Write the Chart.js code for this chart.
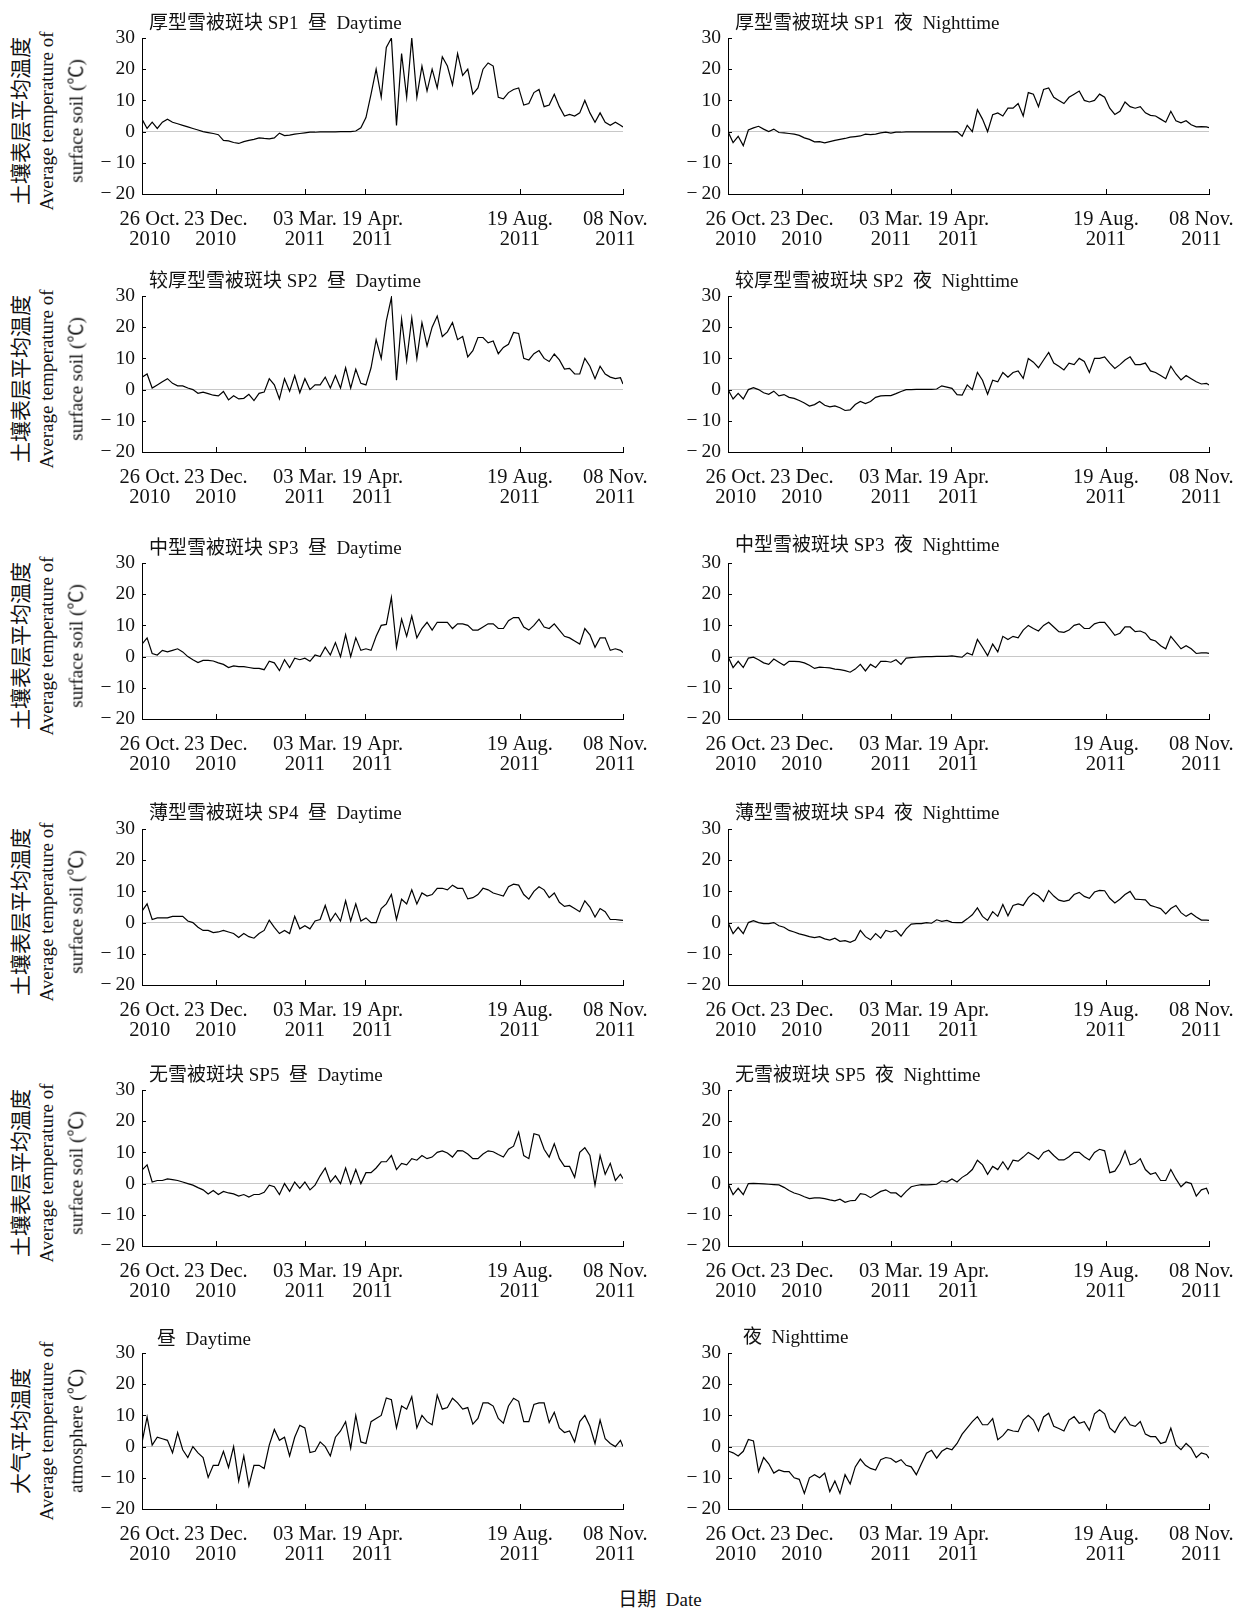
<!DOCTYPE html>
<html>
<head>
<meta charset="utf-8">
<script src="https://cdn.jsdelivr.net/npm/chart.js@4.4.0/dist/chart.umd.min.js"></script>
<style>
  body { margin: 0; background: #fff; width: 1245px; height: 1609px; position: relative; overflow: hidden;
         font-family: "Liberation Serif", "Noto Sans CJK SC", serif; color: #111; }
  .panel { position: absolute; }
  .ttl { position: absolute; font-size: 19px; line-height: 22px; white-space: pre; }
  .ylab { position: absolute; white-space: nowrap; transform: translate(-50%, -50%) rotate(-90deg); font-size: 19px; }
  .ylab.cn { font-size: 21px; }
  .xlab { position: absolute; font-size: 19px; white-space: pre; transform: translate(-50%, -50%); }
</style>
</head>
<body>
<script>
/* days since 26 Oct 2010, one sample every 4 days */
const days = [0,4,8,12,16,20,24,28,32,36,40,44,48,52,56,60,64,68,72,76,80,84,88,92,96,100,104,108,112,116,
  120,124,128,132,136,140,144,148,152,156,160,164,168,172,176,180,184,188,192,196,200,204,208,212,216,220,224,228,232,236,
  240,244,248,252,256,260,264,268,272,276,280,284,288,292,296,300,304,308,312,316,320,324,328,332,336,340,344,348,352,356,
  360,364,368,372,376,378];

const tickDays = [0, 58, 128, 175, 297, 378];
const tickLines1 = ['26 Oct.', '23 Dec.', '03 Mar.', '19 Apr.', '19 Aug.', '08 Nov.'];
const tickLines2 = ['2010', '2010', '2011', '2011', '2011', '2011'];

const sp1Day = [4,1,3,1,3,4,3,2.5,2,1.5,
  1,0.5,0,-0.3,-0.6,-1,-2.8,-3,-3.5,-3.8,
  -3.2,-2.8,-2.5,-2,-2.2,-2.3,-2,-0.5,-1.3,-1.1,
  -0.8,-0.6,-0.4,-0.2,-0.2,-0.1,-0.1,-0.1,-0.1,0,
  0,0,0.2,1.2,4.5,12,20,11,27,30,
  2,25,11,30,11,21,13,20,14,24,
  21,15,25,18,20,12,14,20,22,21,
  11,10.5,12.5,13.5,14,8.5,9,12.5,13.5,8,
  8.5,12,8,5,5.5,5,6,10,6,3,
  6,3,2,3,2,1.5];
const sp1Night = [0,-3.5,-1.5,-4.5,0.5,1.2,1.7,0.8,0,0.8,
  -0.3,-0.4,-0.6,-0.8,-1.2,-2,-2.5,-3.3,-3.2,-3.6,
  -3.2,-2.8,-2.5,-2.2,-1.8,-1.6,-1.4,-0.8,-1,-0.8,
  -0.4,-0.2,-0.5,-0.2,-0.2,-0.1,-0.1,-0.1,-0.1,-0.1,
  -0.1,-0.1,-0.1,-0.1,-0.1,0,-1.5,2,0,7,
  4,0,5.4,6,5,7.5,7.5,9,5,12.5,
  12,8,13.5,14,11,10,9,11,12,13,
  10,9.5,10,12,11,7.5,5.5,6.5,9.5,8,
  7.5,8,6,5.2,5,4,3,6.5,3.5,2.8,
  3.5,2.2,1.5,1.6,1.5,1.3];
const sp2Day = [4,5,0.5,1.5,2.5,3.5,2,1.2,1.2,0.5,
  0,-1.2,-0.8,-1.3,-1.8,-2,-0.6,-3.3,-2,-3,
  -2.8,-1.5,-3.5,-1.2,-0.8,3.5,1.5,-3,3.5,-0.5,
  4.5,-1,3.5,0,1.5,1.5,4,0.5,4.5,0.5,
  7,0.5,6.5,2,1.5,7,16,10,22,29.5,
  3,22.6,9.3,23,10,21.5,14,20,23.6,17,
  18.5,21.5,16,17,10.5,12.5,16.7,16.7,15,15.6,
  11.5,13.5,14.5,18.3,18,10,9.5,11.5,12.5,10,
  9,11.4,9.5,6.6,6.8,5,5,10,7.5,3.5,
  7.5,5,4,3.5,3.8,1.8];
const sp2Night = [0,-3,-1.2,-3,0,0.6,0,-1,-1.5,-0.5,
  -2,-1.6,-2.5,-2.8,-3.5,-4.3,-5.3,-4.8,-3.8,-5,
  -5.5,-5.2,-5.8,-6.7,-6.5,-4.8,-3.8,-4.5,-3.8,-2.5,
  -2,-1.9,-1.9,-1.3,-0.6,0,0,0.1,0.1,0.1,
  0.1,0.2,1.2,0.8,0.4,-1.6,-1.8,1.5,0,5.5,
  3,-1.5,3,2.5,5.5,4,5.5,6,3.6,10,
  8.8,7,9.5,11.9,8.5,7.5,6.3,8.5,8,10,
  9,5.5,10,10,10.5,8.5,6.8,8,9.5,10.5,
  8,8,8.5,6,5.5,4.5,3.5,7.5,5,3.1,
  4.5,3.5,2.5,1.8,2,1.5];
const sp3Day = [4,6,1,0.5,2,1.5,2,2.5,1.5,0,
  -1,-1.9,-1.2,-1.2,-1.4,-2,-2.5,-3.5,-3,-3.2,
  -3.2,-3.5,-3.8,-3.8,-4.2,-1.5,-2,-4.5,-1,-3.5,
  -0.5,-1,-0.5,-1.5,0.5,0,3,0.5,4.5,0,
  7,0,6,2,2.5,2,6.5,10,10.3,19,
  3,12,6.5,13,6,9,11,8.5,11,11,
  11,9,10.5,10.5,10,8.5,8.5,9.5,10.5,10.5,
  9,9,11.5,12.5,12.5,9.5,8.5,10,12,9.5,
  9,10.5,8.5,6.5,6,5,4,9,7,3,
  6,6,2,2.5,2,1.3];
const sp3Night = [0,-3.5,-1.5,-3.5,-0.5,-0.2,-1,-2,-2.5,-0.8,
  -1.8,-2.8,-1.5,-1.5,-1.6,-2,-2.8,-3.8,-3.4,-3.5,
  -3.6,-4,-4.2,-4.5,-5,-4,-2.5,-4.6,-2.5,-3.5,
  -1.5,-1.5,-1.8,-1,-2.5,-0.5,-0.3,-0.2,-0.1,0,
  0,0.1,0.1,0.1,0.2,0,-0.2,1.2,0.5,5.5,
  3,0.3,4,1.5,6.5,5.5,6.5,6,8.5,10,
  9,8.2,10,11,9.5,8,7.8,8.5,10,10.5,
  9,9,10.5,11,11,9,6.8,7.5,9.5,9.5,
  8,8.2,7.5,5.5,5,3.5,2.5,6.5,4.5,2.5,
  3.5,2.5,1,1.2,1.2,1];
const sp4Day = [3.7,6,1,1.5,1.5,1.5,2,2,2,0.5,
  0,-1.5,-2.5,-2.5,-3.2,-3,-2.5,-3,-3.5,-4.8,
  -3.5,-4.5,-5,-3.5,-2.5,0.8,-1.5,-3.5,-2.5,-3.5,
  2,-2,-1,-2,0.5,1,5.5,0.5,3,0.5,
  7,0.5,6,0.5,1.5,0,0,4.5,6,9,
  1,7.5,6,10.5,6,9.5,8.5,9,11,11,
  10.5,12,11,11,7.6,8,9,11,10.5,9.5,
  9,8.5,11.5,12.3,12,9,7.5,10,11.5,10.5,
  8,9.5,6.5,5.2,5.5,4.5,3.5,7,5,1.8,
  4.5,3.5,1,1,0.8,0.7];
const sp4Night = [0,-3.5,-1.5,-3.5,0,0.6,0,-0.3,-0.3,0,
  -1,-1.5,-2.5,-3,-3.6,-4,-4.5,-4.8,-4.5,-5.2,
  -5.6,-5,-6,-5.8,-6.3,-5.6,-2.5,-4.5,-5.5,-3.5,
  -5,-2.5,-3,-2.5,-4.3,-2,-0.5,-0.3,-0.3,0,
  -0.2,0.9,0.4,0.7,0.1,0,0,1.2,2.5,4.7,
  2,0.7,3.5,2,5.8,2.2,5.5,6,5.5,8,
  9.5,8.5,6.8,10.3,8.5,7.2,6.8,7.2,9,9.7,
  8.4,7.8,9.8,10.3,10.2,7.8,6.3,7.5,9,10,
  7.5,7.4,7.3,5.5,5,4.5,2.8,4.5,5.5,3.2,
  2,3,1.8,0.8,0.8,0.7];
const sp5Day = [4.3,6,0.5,1,1,1.5,1.3,1,0.5,0,
  -0.5,-1.3,-2,-3.3,-2.2,-3.5,-2.5,-3,-3.3,-4,
  -3.5,-4.3,-3.5,-3.5,-2.8,-0.5,-1,-3.5,0,-2.5,
  0.5,-1.5,0.5,-2,-0.5,2.5,5,0.5,2.5,0,
  5,0,4.5,0,3.5,3.5,5,7,7,9,
  4.5,6.5,6,8,7.5,9,8,8.5,10,10.5,
  9.8,8.5,10.6,10.5,9.5,8,8,9.5,10.5,10.2,
  9.3,8.5,11,12,16.5,9,8,16,15.5,11,
  8.5,12.8,8,5.5,5.5,2,10,11.5,9,-0.5,
  9,3,6.5,1,3,1.6];
const sp5Night = [0,-3.5,-1.5,-3.5,0,0.1,0,-0.1,-0.2,-0.3,
  -0.4,-1.2,-2.2,-3,-3.5,-4.2,-4.8,-4.6,-4.6,-4.8,
  -5.2,-5.5,-5,-6,-5.5,-5.4,-3.2,-3.5,-4.5,-3.5,
  -2.5,-2,-3,-3,-4.3,-2.5,-1,-0.6,-0.3,-0.4,
  -0.3,-0.2,0.9,0.5,1.5,0.5,2,3,4.5,7.5,
  6,3,5.5,4.5,7,4.5,7.5,7.2,8.5,10,
  9,7.8,10,10.7,9,7.6,7.6,8.6,10,10,
  8.6,7.6,10,11,10.5,3.5,4,6.5,10.5,6,
  6.5,8,4.5,3,3.5,1,1,4.5,1.5,-1,
  0.5,0,-4,-2,-1.5,-3.4];
const airDay = [1.3,9.5,0.5,3,2.5,2,-2,4.5,-1,-3.5,
  0,-2,-3.5,-9.9,-6,-6,-1.5,-6.7,0,-11,
  -3,-12.6,-6,-6,-7,0.5,5.5,2,3,-3,
  3,6.8,6,-1.9,-1.5,1.5,0,-3,3,5,
  8,-0.5,10,1.5,1,8,9,10,15.6,15,
  6,13,12,16,6,10,8,7,16.5,12,
  12.5,15.5,14,12,12.5,7.2,9,14,14,13,
  9,7.5,13,15.5,14.5,8,8,13.5,14,14,
  7.7,11,6,4.5,5,1.5,8,10,6.5,1,
  8.5,2.5,1,0,2,0];
const airNight = [-1.4,-2,-3,-1.5,2.3,1.8,-8,-3.5,-5.5,-8.5,
  -7.5,-8,-8,-10,-10.5,-15,-10,-9,-10,-8.5,
  -14.4,-11,-15,-9,-12,-6.5,-4,-6,-7,-7.5,
  -4.2,-3.5,-3.8,-5,-4.2,-6,-6.5,-9,-5.5,-2.1,
  -1.2,-3.7,-1.5,-0.5,-1,1,4,6,8,9.6,
  7,7,9,2.2,3.5,5.5,5,4.8,8.5,10,
  8.5,5,9.5,10.7,6.5,5.8,5,8.5,9.6,7.5,
  8,5.2,10.5,11.8,10.5,6,4.5,7.5,9.5,7,
  6.5,8,4,3.2,3.2,1,1.5,5.9,0.5,-1,
  1,-0.5,-3.5,-2,-2.5,-3.7];

const titlesLeft = ['厚型雪被斑块 SP1  昼  Daytime', '较厚型雪被斑块 SP2  昼  Daytime', '中型雪被斑块 SP3  昼  Daytime',
  '薄型雪被斑块 SP4  昼  Daytime', '无雪被斑块 SP5  昼  Daytime', '昼  Daytime'];
const titlesRight = ['厚型雪被斑块 SP1  夜  Nighttime', '较厚型雪被斑块 SP2  夜  Nighttime', '中型雪被斑块 SP3  夜  Nighttime',
  '薄型雪被斑块 SP4  夜  Nighttime', '无雪被斑块 SP5  夜  Nighttime', '夜  Nighttime'];
const seriesLeft = [sp1Day, sp2Day, sp3Day, sp4Day, sp5Day, airDay];
const seriesRight = [sp1Night, sp2Night, sp3Night, sp4Night, sp5Night, airNight];
const yTitleCn = ['土壤表层平均温度', '土壤表层平均温度', '土壤表层平均温度', '土壤表层平均温度', '土壤表层平均温度', '大气平均温度'];
const yTitleEn1 = 'Average temperature of';
const yTitleEn2 = ['surface soil (℃)', 'surface soil (℃)', 'surface soil (℃)', 'surface soil (℃)', 'surface soil (℃)', 'atmosphere (℃)'];

// layout
const rowTop = [38, 296, 563, 829, 1090, 1353];
const PLOT_H = 156;
const PAD_TOP = 12;
const AXIS_H = 55;
const PAD_R = 40;
const cols = [
  { canvasLeft: 80, plotRight: 623, yw: 62, titleX: 149 },
  { canvasLeft: 680, plotRight: 1209, yw: 48, titleX: 735 }
];
const titleY = [[23, 23], [281, 281], [548, 545], [813, 813], [1075, 1075], [1339, 1337]];
// the printed figure nudges a few date labels sideways so they don't collide
const tickNudge = ['   ', '', '', '   ', '', ''];
const tickNudgeEnd = ['', '', '', '', '', '   '];

// inward tick marks like the original figure
const inTicks = {
  id: 'inTicks',
  afterDraw(chart) {
    const { ctx, chartArea: a, scales: { x, y } } = chart;
    ctx.save();
    ctx.strokeStyle = '#000';
    ctx.lineWidth = 1;
    ctx.beginPath();
    y.ticks.forEach(t => {
      const py = Math.round(y.getPixelForValue(t.value)) + 0.5;
      ctx.moveTo(a.left, py); ctx.lineTo(a.left + 4, py);
    });
    x.ticks.forEach(t => {
      const px = Math.round(x.getPixelForValue(t.value)) + 0.5;
      ctx.moveTo(px, a.bottom); ctx.lineTo(px, a.bottom - 5);
    });
    ctx.stroke();
    ctx.restore();
  }
};

function addDiv(cls, text, css) {
  const d = document.createElement('div');
  d.className = cls;
  d.textContent = text;
  Object.assign(d.style, css);
  document.body.appendChild(d);
  return d;
}

function makePanel(row, colIdx, values, title) {
  const col = cols[colIdx];
  const wrap = document.createElement('div');
  wrap.className = 'panel';
  wrap.style.left = col.canvasLeft + 'px';
  wrap.style.top = (rowTop[row] - PAD_TOP) + 'px';
  const cv = document.createElement('canvas');
  cv.width = col.plotRight - col.canvasLeft + PAD_R;
  cv.height = PAD_TOP + PLOT_H + AXIS_H;
  wrap.appendChild(cv);
  document.body.appendChild(wrap);

  new Chart(cv.getContext('2d'), {
    type: 'line',
    data: {
      datasets: [{
        data: days.map((d, i) => ({ x: d, y: values[i] })),
        borderColor: '#000',
        borderWidth: 1.2,
        pointRadius: 0,
        tension: 0,
        fill: false
      }]
    },
    options: {
      responsive: false,
      animation: false,
      devicePixelRatio: 1,
      layout: { padding: { top: PAD_TOP, right: PAD_R, left: 0, bottom: 0 } },
      plugins: { legend: { display: false }, tooltip: { enabled: false } },
      scales: {
        x: {
          type: 'linear',
          min: 0,
          max: 378,
          afterBuildTicks: s => { s.ticks = tickDays.map(v => ({ value: v })); },
          afterFit: s => { s.height = AXIS_H; s.paddingLeft = 0; s.paddingRight = 0; },
          grid: { display: false },
          border: { display: true, color: '#000', width: 1 },
          ticks: {
            autoSkip: false,
            maxRotation: 0,
            padding: 7,
            color: '#111',
            font: { family: '"Liberation Serif"', size: 20.5, lineHeight: 1.0 },
            callback: v => {
              const i = tickDays.indexOf(v);
              if (i < 0) return '';
              return [tickNudge[i] + tickLines1[i] + tickNudgeEnd[i], tickNudge[i] + tickLines2[i] + tickNudgeEnd[i]];
            }
          }
        },
        y: {
          min: -20,
          max: 30,
          afterFit: s => { s.width = col.yw; s.paddingTop = 0; s.paddingBottom = 0; },
          grid: {
            drawTicks: false,
            color: c => (c.tick && c.tick.value === 0) ? '#c8c8c8' : 'rgba(0,0,0,0)'
          },
          border: { display: true, color: '#000', width: 1 },
          ticks: {
            stepSize: 10,
            padding: 7,
            color: '#111',
            font: { family: '"Liberation Serif"', size: 19.5 },
            callback: v => v < 0 ? '\u2212\u2009' + Math.abs(v) : String(v)
          }
        }
      }
    },
    plugins: [inTicks]
  });

  addDiv('ttl', title, { left: col.titleX + (row === 5 ? 8 : 0) + 'px', top: (titleY[row][colIdx] - 11) + 'px' });
}

for (let r = 0; r < 6; r++) {
  makePanel(r, 0, seriesLeft[r], titlesLeft[r]);
  makePanel(r, 1, seriesRight[r], titlesRight[r]);
  const cy = rowTop[r] + (r === 5 ? 78 : 83);
  addDiv('ylab cn', yTitleCn[r], { left: '19px', top: cy + 'px' });
  addDiv('ylab', yTitleEn1, { left: '47px', top: cy + 'px' });
  addDiv('ylab', yTitleEn2[r], { left: '74px', top: cy + 'px' });
}

addDiv('xlab', '日期  Date', { left: '660px', top: '1597px' });
</script>
</body>
</html>
